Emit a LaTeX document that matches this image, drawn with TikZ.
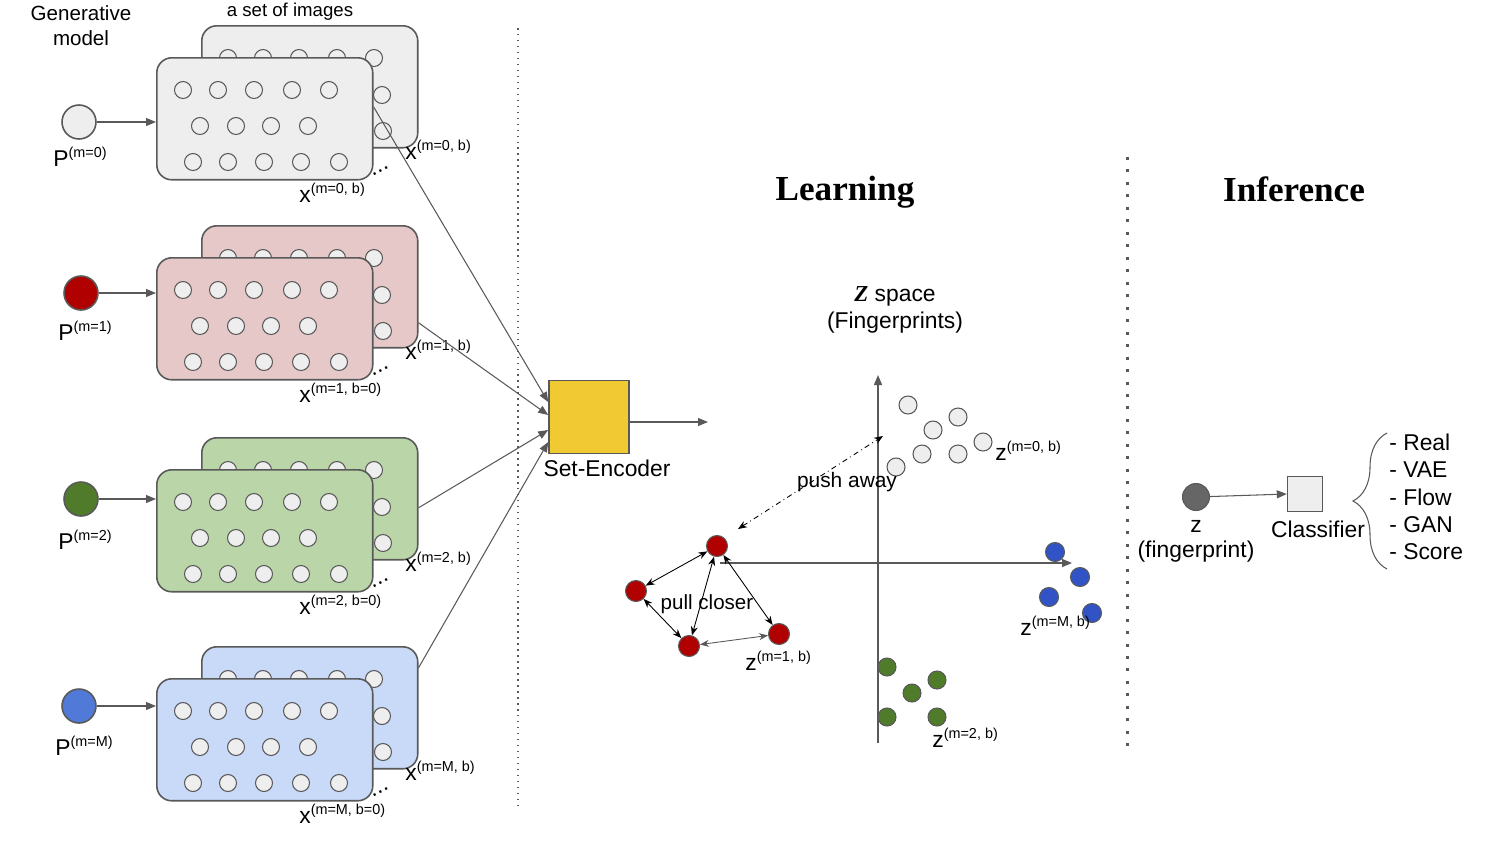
\documentclass[tikz,border=0pt]{standalone}
\usepackage{fontspec}
\setmainfont{Liberation Sans}
\newfontfamily\serifbf{Liberation Serif}
\usepackage{tikz}
\usetikzlibrary{positioning,arrows.meta,decorations.pathreplacing}
\definecolor{linegrey}{HTML}{595959}
\definecolor{dotgrey}{HTML}{EEEEEE}
\definecolor{cardgrey}{HTML}{EEEEEE}
\definecolor{cardred}{HTML}{E6C8C8}
\definecolor{cardgreen}{HTML}{BAD6A8}
\definecolor{cardblue}{HTML}{C9DAF8}
\definecolor{pred}{HTML}{B00000}
\definecolor{pgreen}{HTML}{4F7B2A}
\definecolor{pblue}{HTML}{5079D8}
\definecolor{zblue}{HTML}{3153C6}
\definecolor{encyellow}{HTML}{F1C932}
\definecolor{fpgrey}{HTML}{666666}
\newcommand\supx[1]{\raisebox{5pt}{\fontsize{8.2}{10}\selectfont #1}}
\tikzset{
  card/.style={draw=linegrey, line width=0.9pt, rounded corners=0.3cm, minimum width=4.32cm, minimum height=2.44cm, inner sep=0pt, anchor=north west},
  imgdot/.style={circle, draw=linegrey, fill=dotgrey, line width=0.6pt, minimum size=0.34cm, inner sep=0pt},
  pnode/.style={circle, draw=linegrey, line width=0.9pt, minimum size=0.68cm, inner sep=0pt},
  zdot/.style={circle, draw=linegrey, line width=0.6pt, minimum size=0.36cm, inner sep=0pt},
  reddot/.style={zdot, fill=pred, minimum size=0.42cm},
  lbl/.style={font=\fontsize{13}{15}\selectfont, inner sep=0pt},
  sublbl/.style={font=\fontsize{13}{15}\selectfont, inner sep=0pt, anchor=base west},
  titlelbl/.style={font=\serifbf\bfseries\fontsize{20}{24}\selectfont, inner sep=0pt},
  arr/.style={draw=linegrey, line width=0.6pt, -{Triangle[length=2mm,width=1.6mm]}},
  pull/.style={line width=0.5pt, {Stealth[length=1.8mm,width=1.4mm]}-{Stealth[length=1.8mm,width=1.4mm]}},
}
\begin{document}
\begin{tikzpicture}[x=0.02cm,y=-0.02cm]
    \useasboundingbox (0,0) rectangle (1500,843);

    % headers of the left part
    \node[lbl, align=center, font=\fontsize{11.7}{14.2}\selectfont] (genmodel) at (81,26) {Generative\\model};
    \node[lbl, font=\fontsize{10.6}{12}\selectfont] (imgset) at (290,12) {a set of images};

    % encoder
    \node[draw=linegrey, line width=0.9pt, fill=encyellow, minimum width=1.6cm, minimum height=1.46cm] (enc) at (589,417) {};
    \node[lbl] (enclab) at (607,468) {Set-Encoder};
    \coordinate (encout) at (708,422);
    \draw[arr] (enc.east |- encout) -- (encout);

    % one generative model with its two stacked image sets per row
    \foreach \g/\dy/\cardc/\pc/\px/\py/\plx/\pby/\mm/\flab/\src/\sh/\ent in {
        0/0/cardgrey/dotgrey/79/122/53/166/0/b/f/0.24cm/0.3cm,
        1/200/cardred/pred/81/293/58/340/1/b=0/b/-0.72cm/0.04cm,
        2/412/cardgreen/pgreen/81/499/58/549/2/b=0/b/-0.18cm/-0.26cm,
        3/621/cardblue/pblue/79/706/55/755/M/b=0/b/0.8cm/-0.5cm}
    {
        \node[card, fill=\cardc] (b\g) at (201,25+\dy) {};
        \foreach \xo [count=\i] in {228,263,299,337,374}
            \node[imgdot] (b\g-a\i) at (\xo,58+\dy) {};
        \node[imgdot] (b\g-b5) at (382,95+\dy) {};
        \node[imgdot] (b\g-c5) at (383,131+\dy) {};

        \node[card, fill=\cardc] (f\g) at (156,57+\dy) {};
        \foreach \xo [count=\i] in {183,218,254,292,329}
            \node[imgdot] (f\g-a\i) at (\xo,90+\dy) {};
        \foreach \xo [count=\i] in {200,236,271,308}
            \node[imgdot] (f\g-b\i) at (\xo,126+\dy) {};
        \foreach \xo [count=\i] in {193,228,264,301,339}
            \node[imgdot] (f\g-c\i) at (\xo,162+\dy) {};

        \node[sublbl] (blab\g) at (405,159+\dy) {x\supx{(m=\mm, b)}};
        \node[sublbl] (flab\g) at (299,202+\dy) {x\supx{(m=\mm, \flab)}};
        \node[lbl, rotate=25, anchor=base] (dots\g) at (381,172+\dy) {...};

        \node[pnode, fill=\pc] (p\g) at (\px,\py) {};
        \node[sublbl] (plab\g) at (\plx,\pby) {P\supx{(m=\mm)}};
        \draw[arr] (p\g) -- (p\g -| f\g.west);

        \draw[arr] ([yshift=\sh]\src\g.east) -- ([yshift=\ent]enc.west);
    }

    % separators
    \coordinate (sepatop) at (518,28);
    \coordinate (sepabot) at (518,810);
    \draw[linegrey, line width=0.85pt, dash pattern=on 0.85pt off 2.55pt] (sepatop) -- (sepabot);
    \coordinate (sepbtop) at (1127,157);
    \coordinate (sepbbot) at (1127,748);
    \draw[linegrey, line width=1.7pt, dash pattern=on 1.7pt off 5.4pt] (sepbtop) -- (sepbbot);

    % learning
    \node[titlelbl] (learn) at (845,192) {Learning};
    \node[lbl] (zspace) at (895,296) {{\serifbf\bfseries\itshape Z} space};
    \node[lbl] (fprints) at (895,323) {(Fingerprints)};

    \coordinate (axb) at (878,743);
    \coordinate (axt) at (878,375);
    \coordinate (axl) at (720,563);
    \coordinate (axr) at (1072,563);
    \draw[arr, line width=0.8pt] (axb) -- (axt);
    \draw[arr, line width=0.8pt] (axl) -- (axr);

    \foreach \zx/\zy [count=\i] in {908/405,958/417,933/430,983/442,922/454,958/454,896/467}
        \node[zdot, fill=dotgrey] (zg\i) at (\zx,\zy) {};
    \node[sublbl] (zglab) at (995,460) {z\supx{(m=0, b)}};

    \foreach \zx/\zy [count=\i] in {1055/552,1080/577,1049/597,1092/613}
        \node[zdot, fill=zblue, minimum size=0.38cm] (zb\i) at (\zx,\zy) {};
    \node[sublbl] (zblab) at (1020,635) {z\supx{(m=M, b)}};

    \foreach \zx/\zy [count=\i] in {887/667,912/693,937/680,887/717,937/717}
        \node[zdot, fill=pgreen] (zn\i) at (\zx,\zy) {};
    \node[sublbl] (znlab) at (932,747) {z\supx{(m=2, b)}};

    \node[reddot] (r1) at (717,546) {};
    \node[reddot] (r2) at (636,591) {};
    \node[reddot] (r3) at (689,646) {};
    \node[reddot] (r4) at (779,634) {};
    \draw[pull] (r1) -- (r2);
    \draw[pull] (r1) -- (r3);
    \draw[pull] (r1) -- (r4);
    \draw[pull] (r2) -- (r3);
    \draw[pull, linegrey] (r3) -- (r4);
    \node[sublbl] (zrlab) at (745,670) {z\supx{(m=1, b)}};
    \node[lbl, font=\fontsize{11.7}{14}\selectfont] (pull) at (707,604) {pull closer};

    \coordinate (pusha) at (738,529);
    \coordinate (pushb) at (883,436);
    \draw[line width=0.5pt, dash dot, {Stealth[length=1.8mm,width=1.4mm]}-{Stealth[length=1.8mm,width=1.4mm]}] (pusha) -- (pushb);
    \node[lbl, font=\fontsize{11.9}{14}\selectfont] (push) at (847,482) {push away};

    % inference
    \node[titlelbl] (infer) at (1294,189) {Inference};
    \node[circle, draw=linegrey, line width=0.6pt, fill=fpgrey, minimum size=0.54cm, inner sep=0pt] (zf) at (1196,497) {};
    \node[lbl] (zflab) at (1196,526) {z};
    \node[lbl] (zfname) at (1196,552) {(fingerprint)};
    \node[draw=linegrey, line width=0.8pt, fill=dotgrey, minimum size=0.7cm, inner sep=0pt] (cls) at (1305,494) {};
    \node[lbl] (clslab) at (1318,529) {Classifier};
    \draw[arr] (zf) -- (cls.west);

    \coordinate (brbot) at (1387,569);
    \coordinate (brtop) at (1387,433);
    \draw[linegrey, line width=0.6pt, decorate, decoration={brace, amplitude=0.68cm}] (brbot) -- (brtop);
    \node[lbl, align=left, anchor=west, font=\fontsize{13}{15.6}\selectfont] (types) at (1389,497) {- Real\\- VAE\\- Flow\\- GAN\\- Score};
\end{tikzpicture}
\end{document}
